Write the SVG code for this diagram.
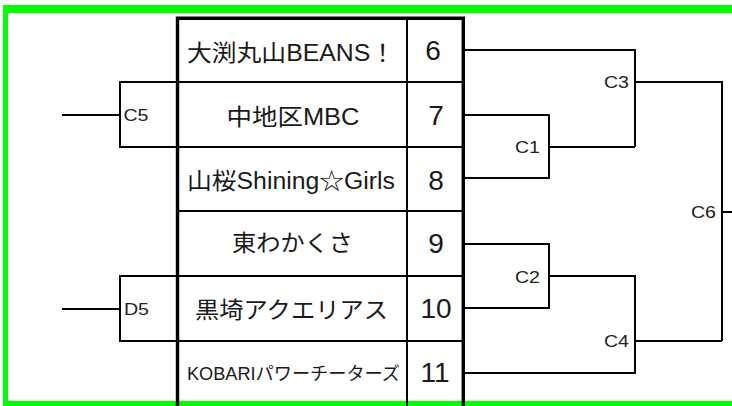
<svg xmlns="http://www.w3.org/2000/svg" width="732" height="406" viewBox="0 0 732 406">
<style>
.frame{fill:#00ff00}
.ln{fill:none;stroke:#000;stroke-width:2}
.thick{fill:none;stroke:#000;stroke-width:3.4}
.nm{font-family:"Liberation Sans","Noto Sans CJK JP",sans-serif;font-size:23px;fill:#1a1a1a;text-anchor:middle}
.num{font-family:"Liberation Sans","Noto Sans CJK JP",sans-serif;font-size:28px;fill:#1a1a1a;text-anchor:middle}
.lb{font-family:"Liberation Sans",sans-serif;font-size:16px;fill:#222}
</style>
<rect width="732" height="406" fill="#fff"/>
<g id="frame">
<rect class="frame" x="3" y="5" width="729" height="8"/>
<rect class="frame" x="3" y="5" width="5" height="401"/>
<rect class="frame" x="3" y="401" width="729" height="5"/>
</g>
<g id="table">
<path class="ln" d="M177 82H463M177 147H463M177 211H463M177 276H463M177 341H463M407 18V406"/>
<path class="thick" d="M177.5 406V18.3H463.3V406"/>
</g>
<g id="team6"><text class="nm" x="291" y="61" textLength="208" lengthAdjust="spacingAndGlyphs">大渕丸山BEANS！</text><text class="num" x="433" y="59.5">6</text></g>
<g id="team7"><text class="nm" x="293" y="125" textLength="133" lengthAdjust="spacingAndGlyphs">中地区MBC</text><text class="num" x="436" y="125">7</text></g>
<g id="team8"><text class="nm" x="291" y="188.5" textLength="208" lengthAdjust="spacingAndGlyphs">山桜Shining☆Girls</text><text class="num" x="436" y="190">8</text></g>
<g id="team9"><text class="nm" x="292.5" y="251" textLength="121" lengthAdjust="spacingAndGlyphs">東わかくさ</text><text class="num" x="436" y="253">9</text></g>
<g id="team10"><text class="nm" x="291.5" y="318" textLength="193" lengthAdjust="spacingAndGlyphs">黒埼アクエリアス</text><text class="num" x="436" y="318">10</text></g>
<g id="team11"><text class="nm" x="293.5" y="380" style="font-size:18.5px" textLength="213" lengthAdjust="spacingAndGlyphs">KOBARIパワーチーターズ</text><text class="num" x="435" y="382">11</text></g>
<g id="connectors">
<path class="ln" d="M177 82H120V147H177M62 115H120"/>
<path class="ln" d="M177 276H120V341H177M62 309H120"/>
<path class="ln" d="M465 50H635V147M465 115H549V178H465M549 147H635M635 82H722V341"/>
<path class="ln" d="M465 244H549V308H465M549 276H635V373H465M635 341H722M722 212H732"/>
</g>
<g id="labels">
<text class="lb" x="123.5" y="121" textLength="25" lengthAdjust="spacingAndGlyphs">C5</text>
<text class="lb" x="124" y="315" textLength="25" lengthAdjust="spacingAndGlyphs">D5</text>
<text class="lb" x="515" y="153" textLength="25" lengthAdjust="spacingAndGlyphs">C1</text>
<text class="lb" x="604" y="88" textLength="25" lengthAdjust="spacingAndGlyphs">C3</text>
<text class="lb" x="515" y="283" textLength="25" lengthAdjust="spacingAndGlyphs">C2</text>
<text class="lb" x="604" y="347" textLength="25" lengthAdjust="spacingAndGlyphs">C4</text>
<text class="lb" x="691" y="218" textLength="25" lengthAdjust="spacingAndGlyphs">C6</text>
</g>
</svg>
